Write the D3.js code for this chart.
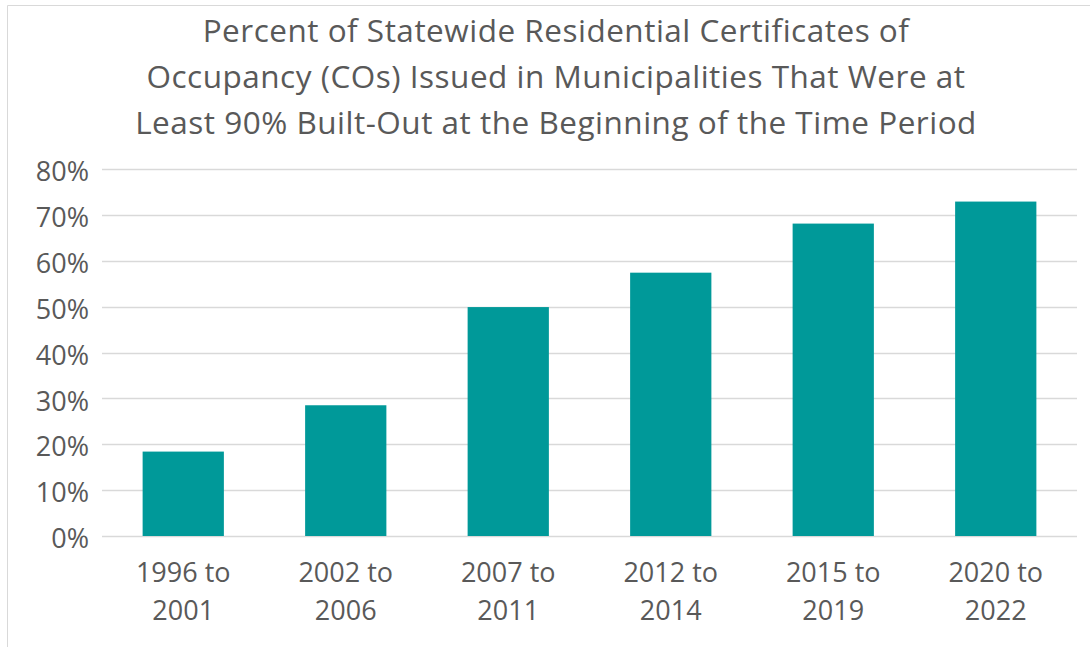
<html>
<head>
<script src="https://d3js.org/d3.v7.min.js"></script>
<style>
  body { margin: 0; background: #fff; }
  text { font-family: "Open Sans", Lato, sans-serif; fill: #595959; }
</style>
</head>
<body>
<svg width=1090 height=647></svg>
<script>
// data
const periods = [["1996 to", "2001"], ["2002 to", "2006"], ["2007 to", "2011"],
                 ["2012 to", "2014"], ["2015 to", "2019"], ["2020 to", "2022"]];
const pct = [18.4, 28.5, 49.9, 57.4, 68.1, 72.9];
const yTicks = [0, 10, 20, 30, 40, 50, 60, 70, 80];
const titleLines = ["Percent of Statewide Residential Certificates of",
                    "Occupancy (COs) Issued in Municipalities That Were at",
                    "Least 90% Built-Out at the Beginning of the Time Period"];

const svg = d3.select("svg");
const plotL = 102, plotR = 1077, plotT = 169, plotB = 536;

// chart frame
svg.append("path")
  .attr("d", "M7.5,700 V5.5 H1100")
  .attr("fill", "none")
  .attr("stroke", "#d9d9d9");

const x = d3.scaleBand()
  .domain(d3.range(periods.length))
  .range([plotL, plotR])
  .paddingInner(0.5)
  .paddingOuter(0.25);

const y = d3.scaleLinear()
  .domain([0, 80])
  .range([plotB, plotT]);

// gridlines
svg.selectAll(".grid")
  .data(yTicks)
  .enter()
  .append("line")
    .attr("x1", plotL)
    .attr("x2", plotR)
    .attr("y1", d => Math.round(y(d)) + 0.5)
    .attr("y2", d => Math.round(y(d)) + 0.5)
    .attr("stroke", "#d9d9d9")
    .attr("stroke-width", 1.5);

// y labels
svg.selectAll(".ylab")
  .data(yTicks)
  .enter()
  .append("text")
    .attr("x", 89)
    .attr("y", d => y(d))
    .attr("dy", "0.45em")
    .attr("text-anchor", "end")
    .style("font-size", "27px")
    .text(d => d + "%");

// bars
svg.selectAll(".bar")
  .data(pct)
  .enter()
  .append("rect")
    .attr("x", (d, i) => x(i))
    .attr("width", x.bandwidth())
    .attr("y", d => y(d))
    .attr("height", d => y(0) - y(d))
    .attr("fill", "#009999");

// x labels
const xl = svg.selectAll(".xlab")
  .data(periods)
  .enter()
  .append("text")
    .attr("text-anchor", "middle")
    .style("font-size", "27px");
xl.append("tspan")
  .attr("x", (d, i) => x(i) + x.bandwidth() / 2)
  .attr("y", 582)
  .text(d => d[0]);
xl.append("tspan")
  .attr("x", (d, i) => x(i) + x.bandwidth() / 2)
  .attr("y", 620)
  .text(d => d[1]);

// title
svg.selectAll(".title")
  .data(titleLines)
  .enter()
  .append("text")
    .attr("x", 556)
    .attr("y", (d, i) => 42 + i * 46)
    .attr("text-anchor", "middle")
    .style("font-size", "31.5px")
    .style("letter-spacing", "0.5px")
    .text(d => d);
</script>
</body>
</html>
